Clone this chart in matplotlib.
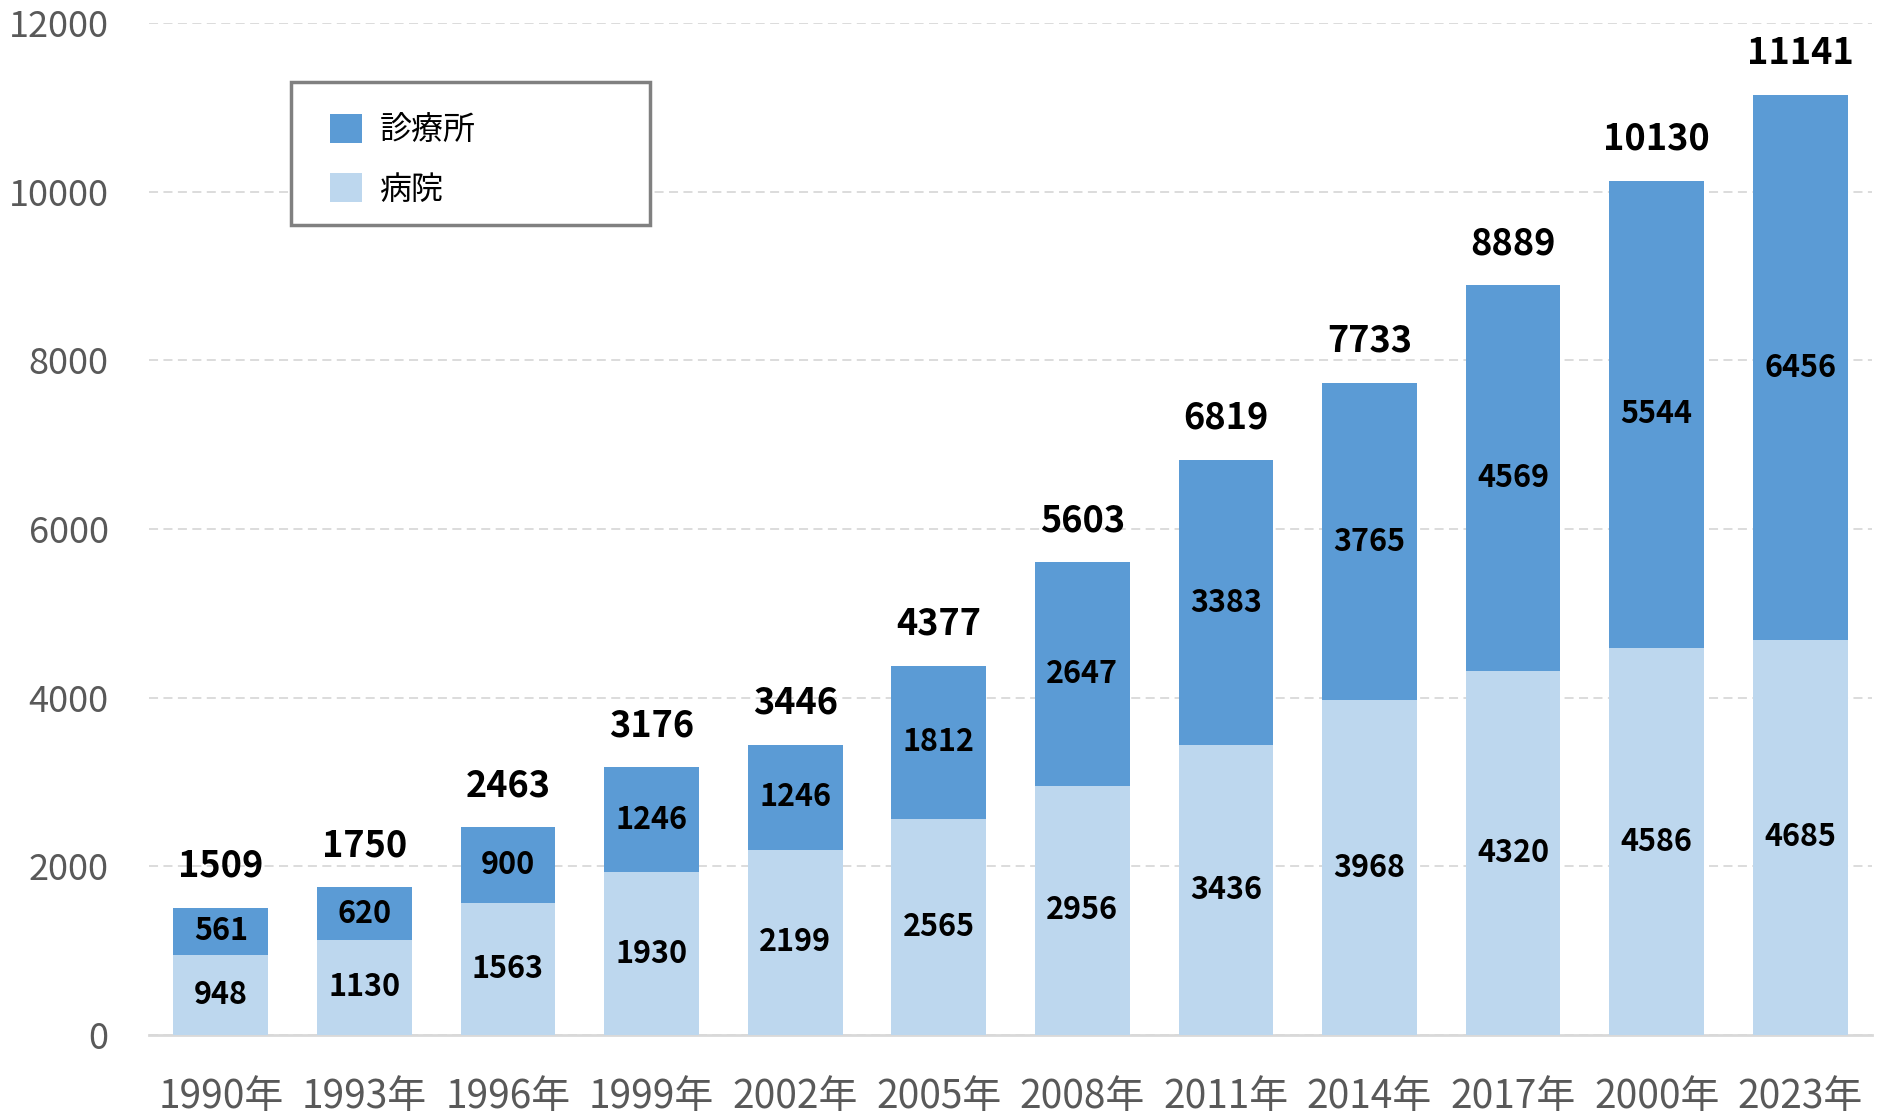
import numpy as np
import matplotlib
matplotlib.use('Agg')
import matplotlib.pyplot as plt
from matplotlib.patches import Rectangle

plt.rcParams['font.family'] = ['Noto Sans CJK JP', 'DejaVu Sans']

# data
years = ['1990年', '1993年', '1996年', '1999年', '2002年', '2005年',
         '2008年', '2011年', '2014年', '2017年', '2000年', '2023年']
hospital = [948, 1130, 1563, 1930, 2199, 2565, 2956, 3436, 3968, 4320, 4586, 4685]
clinic = [561, 620, 900, 1246, 1246, 1812, 2647, 3383, 3765, 4569, 5544, 6456]
totals = [1509, 1750, 2463, 3176, 3446, 4377, 5603, 6819, 7733, 8889, 10130, 11141]

DARK = '#5B9BD5'
LIGHT = '#BDD7EE'
GRID = '#D9D9D9'
TICK = '#595959'

fig = plt.figure(figsize=(18.86, 11.15), dpi=100)
ax = fig.add_axes([0.079, 0.0717, 0.9136, 0.9077])

x = np.arange(len(years))
width = 0.66
b1 = ax.bar(x, hospital, width, color=LIGHT, label='病院', zorder=3)
b2 = ax.bar(x, clinic, width, bottom=hospital, color=DARK, label='診療所', zorder=3)

# segment labels
for bars in (b1, b2):
    for rect in bars:
        h = rect.get_height()
        ax.text(rect.get_x() + rect.get_width() / 2, rect.get_y() + h / 2,
                f'{int(h)}', ha='center', va='center', fontsize=22,
                fontweight='bold', color='black', zorder=4)

# totals above bars
for xi, top, tot in zip(x, np.add(hospital, clinic), totals):
    ax.annotate(f'{tot}', (xi, top), xytext=(0, 30), textcoords='offset points',
                ha='center', va='center', fontsize=26, fontweight='bold',
                color='black', zorder=4)

ax.set_xlim(-0.5, len(years) - 0.5)
ax.set_ylim(0, 12000)
ax.set_yticks(range(0, 12001, 2000))
ax.set_xticks(x)
ax.set_xticklabels(years)
ax.tick_params(axis='both', length=0, colors=TICK)
ax.tick_params(axis='y', pad=29, labelsize=26)
ax.tick_params(axis='x', pad=30, labelsize=28)

ax.yaxis.grid(True, color=GRID, linestyle=(0, (5, 3)), linewidth=1.3, zorder=0)
ax.set_axisbelow(True)
for side in ('left', 'right', 'top'):
    ax.spines[side].set_visible(False)
ax.spines['bottom'].set_color(GRID)
ax.spines['bottom'].set_linewidth(2)

# legend box drawn separately so its size matches the original
ax.add_patch(Rectangle((0.0824, 0.8004), 0.2084, 0.1413, transform=ax.transAxes,
                       facecolor='white', edgecolor='#808080', linewidth=2.5,
                       zorder=5))
leg = ax.legend([b2, b1], ['診療所', '病院'], loc='upper left',
                bbox_to_anchor=(0.105, 0.910), borderaxespad=0, borderpad=0,
                fontsize=23, frameon=False, handlelength=1.0, handleheight=1.0,
                handletextpad=0.55, labelspacing=0.85)
leg.set_zorder(6)

fig.savefig('out.png', dpi=100)
